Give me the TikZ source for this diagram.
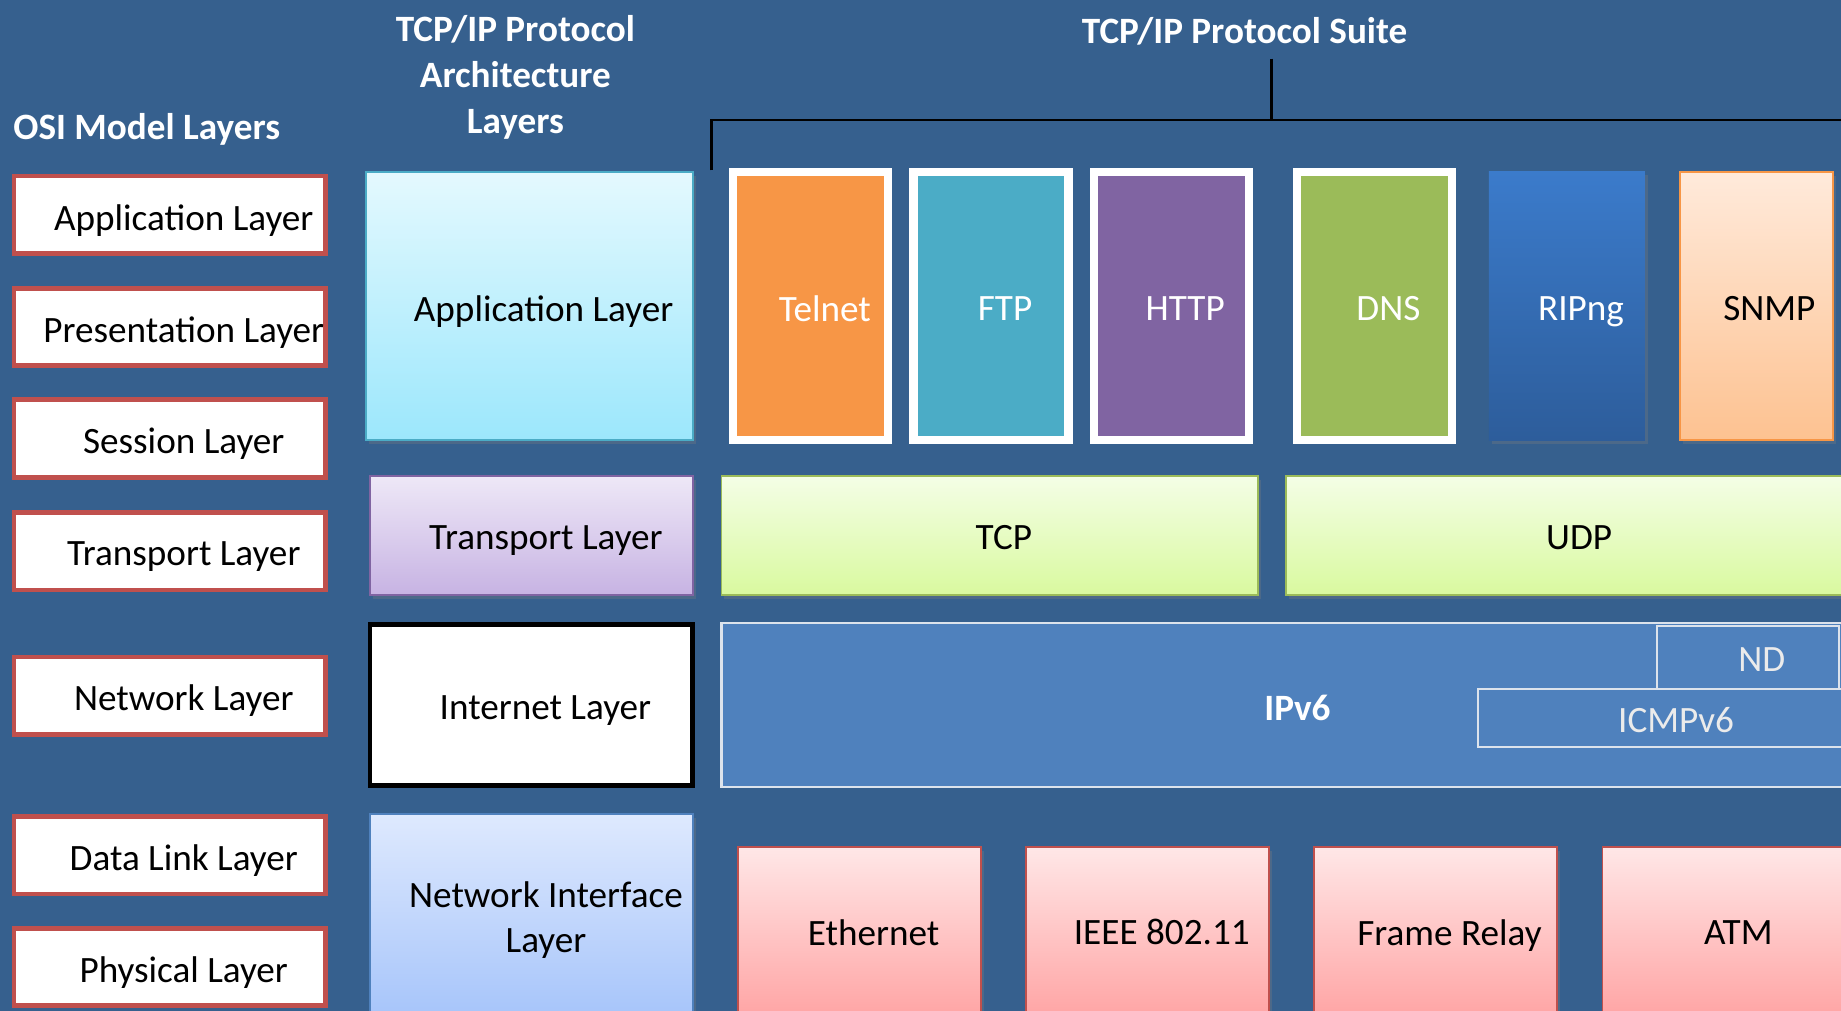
\documentclass[tikz,border=0pt]{standalone}
\usepackage{fontspec}
\setmainfont{Carlito}
\usetikzlibrary{shadows}

\definecolor{bgblue}{HTML}{36608E}
\definecolor{osired}{HTML}{C0504D}
\definecolor{aquaedge}{HTML}{4BACC6}
\definecolor{violetA}{HTML}{8064A2}
\definecolor{ipblue}{HTML}{4F81BD}
\definecolor{orangeA}{HTML}{F79646}
\definecolor{greenA}{HTML}{9BBB59}

\newcommand{\px}{0.6pt}
\newcommand{\bodyfont}{\fontsize{19}{23.4}\selectfont}

\tikzset{
  % size in reference pixels
  sz/.style 2 args={minimum width=#1*\px, minimum height=#2*\px, inner sep=0pt},
  % Text placed a bit right of the box centre
  lbl/.style={xshift=12*\px, yshift=-2*\px, text depth=0pt, font=\bodyfont, inner sep=0pt, align=center},
  head/.style={font=\bfseries\bodyfont, text=white, align=center, inner sep=0pt},
  shade/.style={drop shadow={shadow xshift=1.5pt, shadow yshift=-2pt, opacity=0.3}},
  % OSI column
  osibox/.style={draw=osired, line width=2.4pt, fill=white, sz={265}{66}},
  % Protocol suite boxes
  probox/.style={draw=white, line width=4.2pt, sz={132}{228}, shade},
  tlbox/.style={draw=greenA, line width=1pt, top color={rgb,255:red,244;green,254;blue,230}, bottom color={rgb,255:red,217;green,249;blue,159}, shade},
  ipbox/.style={draw={rgb,255:red,220;green,227;blue,236}, line width=1.2pt, fill=ipblue},
  linkbox/.style={draw=osired, line width=0.8pt, sz={207}{143},
    top color={rgb,255:red,255;green,231;blue,231}, bottom color={rgb,255:red,255;green,165;blue,165}, shade},
  bracket/.style={draw=black, line width=1.2pt},
}

\begin{document}
\begin{tikzpicture}[x=0.6pt, y=-0.6pt]
  \useasboundingbox (0,0) rectangle (1568,861);
  \clip (0,0) rectangle (1568,861);
  \fill[bgblue] (0,0) rectangle (1568,861);

  % --- HEADINGS ---
  \node[head] (osi-title) at (125,110) {OSI Model Layers};
  \node[head] (arch-title) at (439,66) {TCP/IP Protocol\\Architecture\\Layers};
  \node[head] (suite-title) at (1060,27) {TCP/IP Protocol Suite};

  % --- OSI MODEL ---
  \node[osibox, label={[lbl]center:Application Layer}]  (osi-app)   at (144.5,183) {};
  \node[osibox, label={[lbl]center:Presentation Layer}] (osi-pres)  at (144.5,278.5) {};
  \node[osibox, label={[lbl]center:Session Layer}]      (osi-sess)  at (144.5,373.5) {};
  \node[osibox, label={[lbl]center:Transport Layer}]    (osi-trans) at (144.5,469.5) {};
  \node[osibox, label={[lbl]center:Network Layer}]      (osi-net)   at (144.5,592.5) {};
  \node[osibox, label={[lbl]center:Data Link Layer}]    (osi-link)  at (144.5,728.5) {};
  \node[osibox, label={[lbl]center:Physical Layer}]     (osi-phys)  at (144.5,823.5) {};

  % --- TCP/IP ARCHITECTURE ---
  \node[sz={279}{228}, draw=aquaedge, line width=1pt, shade,
        top color={rgb,255:red,228;green,249;blue,254}, bottom color={rgb,255:red,156;green,231;blue,252},
        label={[lbl]center:Application Layer}] (arch-app) at (451,260.5) {};
  \node[sz={275}{101}, draw=violetA, line width=1pt, shade,
        top color={rgb,255:red,238;green,232;blue,247}, bottom color={rgb,255:red,199;green,179;blue,227},
        label={[lbl]center:Transport Layer}] (arch-trans) at (453,456) {};
  \node[sz={275}{137}, draw=black, line width=2.4pt, fill=white,
        label={[lbl]center:Internet Layer}] (arch-int) at (452.5,600.5) {};
  \node[sz={275}{171}, draw=ipblue, line width=1pt, shade,
        top color={rgb,255:red,222;green,233;blue,254}, bottom color={rgb,255:red,167;green,197;blue,250},
        label={[lbl]center:Network Interface\\Layer}] (arch-net) at (453,779) {};

  % --- SUITE BRACKET ---
  \coordinate (br-top) at (1083,50);
  \coordinate (br-mid) at (1083,102);
  \coordinate (br-left) at (606,145);
  \coordinate (br-right) at (1590,102);
  \draw[bracket] (br-top) -- (br-mid);
  \draw[bracket] (br-left) |- (br-right);

  % --- APPLICATION PROTOCOLS ---
  \node[probox, fill=orangeA, label={[lbl, text=white]center:Telnet}] (telnet) at (690.5,260.5) {};
  \node[probox, fill=aquaedge, label={[lbl, text=white]center:FTP}]   (ftp)    at (844,260.5) {};
  \node[probox, fill=violetA, label={[lbl, text=white]center:HTTP}]   (http)   at (997.5,260.5) {};
  \node[probox, fill=greenA, label={[lbl, text=white]center:DNS}]     (dns)    at (1170.5,260.5) {};
  \node[sz={133}{229}, shade,
        top color={rgb,255:red,59;green,123;blue,203}, bottom color={rgb,255:red,45;green,93;blue,155},
        label={[lbl, text=white]center:RIPng}] (ripng) at (1334.5,260.5) {};
  \node[sz={131}{228}, draw=orangeA, line width=1pt, shade,
        top color={rgb,255:red,255;green,234;blue,219}, bottom color={rgb,255:red,253;green,194;blue,145},
        label={[lbl, xshift=-1*\px]center:SNMP}] (snmp) at (1496,260.5) {};

  % --- TRANSPORT ---
  \node[tlbox, sz={457}{101}, label={[lbl]center:TCP}] (tcp) at (843,456) {};
  \node[tlbox, sz={499}{101}, label={[lbl, xshift=-12*\px]center:UDP}] (udp) at (1345,456) {};

  % --- INTERNET ---
  \node[ipbox, sz={981}{140},
        label={[lbl, xshift=-12*\px, text=white, font=\bfseries\bodyfont]center:IPv6}] (ipv6) at (1105,600.5) {};
  \node[ipbox, sz={155}{54}, label={[lbl, text=white!92!black]center:ND}] (nd) at (1488.5,560) {};
  \node[ipbox, sz={337}{49},
        label={[lbl, xshift=-12*\px, text=white!92!black]center:ICMPv6}] (icmpv6) at (1427.5,611.5) {};

  % --- NETWORK INTERFACE ---
  \node[linkbox, label={[lbl, yshift=1*\px]center:Ethernet}]    (ethernet) at (732,793) {};
  \node[linkbox, label={[lbl, yshift=1*\px]center:IEEE 802.11}] (wifi)     at (977.5,793) {};
  \node[linkbox, label={[lbl, yshift=1*\px]center:Frame Relay}] (framerly) at (1222.5,793) {};
  \node[linkbox, label={[lbl, yshift=1*\px]center:ATM}]         (atm)      at (1468.5,793) {};

\end{tikzpicture}
\end{document}
